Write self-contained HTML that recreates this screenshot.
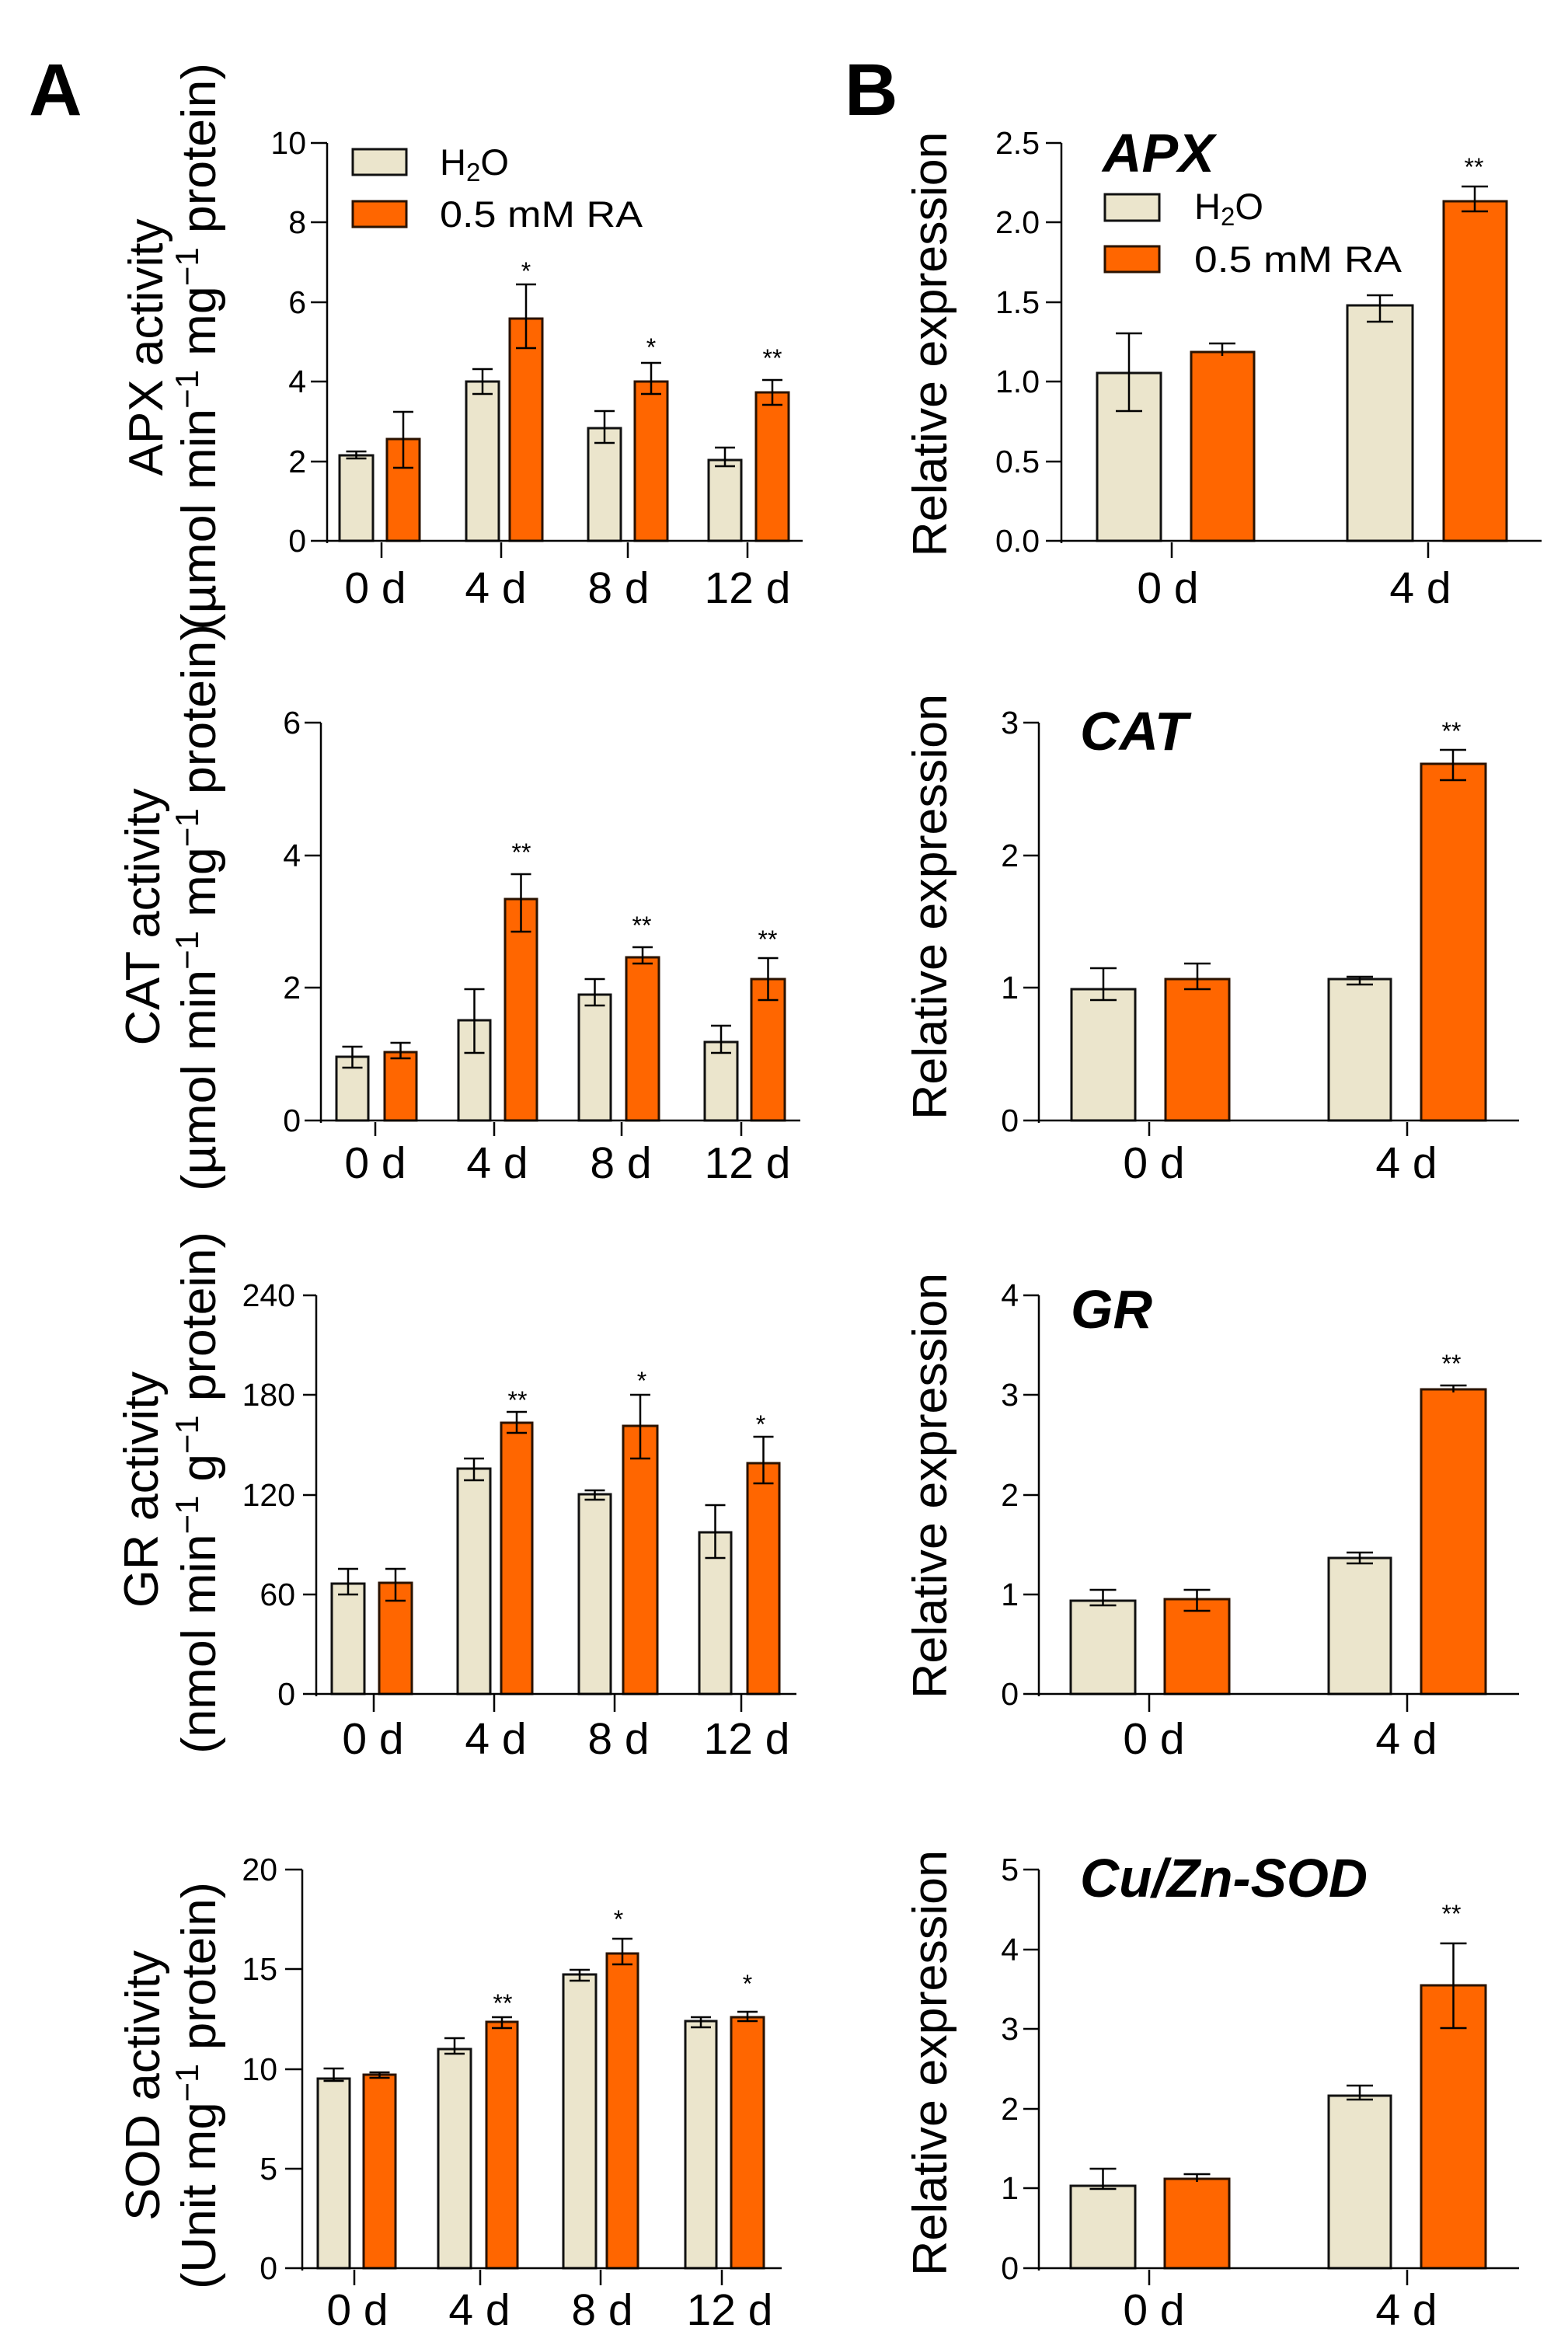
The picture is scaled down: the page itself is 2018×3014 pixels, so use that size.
<!DOCTYPE html>
<html>
<head>
<meta charset="utf-8">
<style>
html,body{margin:0;padding:0;background:#fff;}
svg{display:block;}
.ax{stroke:#000;stroke-width:2.5;fill:none}
.bg{fill:#EBE5CC;stroke:#111;stroke-width:3}
.or{fill:#FF6600;stroke:#2a1200;stroke-width:3}
.eb{stroke:#000;stroke-width:2.5;fill:none}
text{font-family:"Liberation Sans",Arial,sans-serif;fill:#000}
.tl{font-size:41px;text-anchor:end}
.cl{font-size:57px;text-anchor:middle}
.st{font-size:32px;text-anchor:middle}
.yl{font-size:62px;text-anchor:middle}
.gn{font-size:70px;font-weight:bold;font-style:italic}
.pl{font-size:95px;font-weight:bold}
.lg{font-size:47px}
</style>
</head>
<body>
<svg width="2018" height="3014" viewBox="0 0 2018 3014" xmlns="http://www.w3.org/2000/svg">
<rect x="0" y="0" width="2018" height="3014" fill="#fff"/>

<!-- Panel letters -->
<text class="pl" x="37" y="148">A</text>
<text class="pl" x="1087" y="148">B</text>

<!-- ================= A1 APX activity ================= -->
<text class="yl" transform="translate(209,447) rotate(-90)" textLength="331" lengthAdjust="spacingAndGlyphs">APX activity</text>
<text class="yl" transform="translate(277,446) rotate(-90)" textLength="730" lengthAdjust="spacingAndGlyphs">(µmol min<tspan font-size="42" dy="-22">−1</tspan><tspan dy="22"> mg</tspan><tspan font-size="42" dy="-22">−1</tspan><tspan dy="22"> protein)</tspan></text>
<rect class="bg" x="437" y="586" width="43" height="110"/>
<rect class="or" x="498" y="565" width="42" height="131"/>
<rect class="bg" x="600" y="491" width="42" height="205"/>
<rect class="or" x="656" y="410" width="42" height="286"/>
<rect class="bg" x="757" y="551" width="42" height="145"/>
<rect class="or" x="817" y="491" width="42" height="205"/>
<rect class="bg" x="912" y="592" width="42" height="104"/>
<rect class="or" x="973" y="505" width="42" height="191"/>
<path class="eb" d="M458.5 581V590M445.5 581H471.5M445.5 590H471.5
M519 530V602M506 530H532M506 602H532
M621 475V507M608 475H634M608 507H634
M677 366V448M664 366H690M664 448H690
M778 529V570M765 529H791M765 570H791
M838 467V507M825 467H851M825 507H851
M933 576V600M920 576H946M920 600H946
M994 489V521M981 489H1007M981 521H1007"/>
<path class="ax" d="M421 184V699M400 696H1033M400 184H421M400 286H421M400 389H421M400 491H421M400 594H421M491 698V718M645 698V718M808 698V718M962 698V718"/>
<text class="tl" x="394" y="198">10</text>
<text class="tl" x="394" y="300">8</text>
<text class="tl" x="394" y="403">6</text>
<text class="tl" x="394" y="505">4</text>
<text class="tl" x="394" y="608">2</text>
<text class="tl" x="394" y="710">0</text>
<text class="cl" x="483" y="776">0 d</text>
<text class="cl" x="638" y="776">4 d</text>
<text class="cl" x="796" y="776">8 d</text>
<text class="cl" x="962" y="776">12 d</text>
<text class="st" x="677" y="360">*</text>
<text class="st" x="838" y="458">*</text>
<text class="st" x="994" y="472">**</text>
<rect class="bg" x="454" y="192" width="69" height="33"/>
<rect class="or" x="454" y="259" width="69" height="33"/>
<text class="lg" x="566" y="225">H<tspan font-size="33" dy="8">2</tspan><tspan dy="-8">O</tspan></text>
<text class="lg" x="566" y="292" textLength="261" lengthAdjust="spacingAndGlyphs">0.5 mM RA</text>

<!-- ================= B1 APX expression ================= -->
<text class="yl" transform="translate(1218,443) rotate(-90)" textLength="547" lengthAdjust="spacingAndGlyphs">Relative expression</text>
<rect class="bg" x="1412" y="480" width="82" height="216"/>
<rect class="or" x="1533" y="453" width="81" height="243"/>
<rect class="bg" x="1734" y="393" width="84" height="303"/>
<rect class="or" x="1858" y="259" width="81" height="437"/>
<path class="eb" d="M1453 429V529M1436 429H1470M1436 529H1470
M1573 442V458M1556 442H1590
M1776 380V414M1759 380H1793M1759 414H1793
M1898 240V272M1881 240H1915M1881 272H1915"/>
<path class="ax" d="M1366 184V699M1346 696H1984M1346 184H1366M1346 286H1366M1346 389H1366M1346 491H1366M1346 594H1366M1508 698V718M1838 698V718"/>
<text class="tl" x="1338" y="198">2.5</text>
<text class="tl" x="1338" y="300">2.0</text>
<text class="tl" x="1338" y="403">1.5</text>
<text class="tl" x="1338" y="505">1.0</text>
<text class="tl" x="1338" y="608">0.5</text>
<text class="tl" x="1338" y="710">0.0</text>
<text class="cl" x="1503" y="776">0 d</text>
<text class="cl" x="1828" y="776">4 d</text>
<text class="st" x="1897" y="226">**</text>
<text class="gn" x="1419" y="221">APX</text>
<rect class="bg" x="1422" y="250" width="70" height="34"/>
<rect class="or" x="1422" y="317" width="70" height="33"/>
<text class="lg" x="1537" y="282">H<tspan font-size="33" dy="8">2</tspan><tspan dy="-8">O</tspan></text>
<text class="lg" x="1537" y="350" textLength="267" lengthAdjust="spacingAndGlyphs">0.5 mM RA</text>

<!-- ================= A2 CAT activity ================= -->
<text class="yl" transform="translate(205,1180) rotate(-90)" textLength="331" lengthAdjust="spacingAndGlyphs">CAT activity</text>
<text class="yl" transform="translate(277,1168) rotate(-90)" textLength="730" lengthAdjust="spacingAndGlyphs">(µmol min<tspan font-size="42" dy="-22">−1</tspan><tspan dy="22"> mg</tspan><tspan font-size="42" dy="-22">−1</tspan><tspan dy="22"> protein)</tspan></text>
<rect class="bg" x="433" y="1360" width="41" height="82"/>
<rect class="or" x="495" y="1354" width="41" height="88"/>
<rect class="bg" x="590" y="1313" width="41" height="129"/>
<rect class="or" x="650" y="1157" width="41" height="285"/>
<rect class="bg" x="745" y="1280" width="41" height="162"/>
<rect class="or" x="806" y="1232" width="42" height="210"/>
<rect class="bg" x="907" y="1341" width="42" height="101"/>
<rect class="or" x="967" y="1260" width="43" height="182"/>
<path class="eb" d="M453.5 1347V1374M440.5 1347H466.5M440.5 1374H466.5
M515.5 1342V1362M502.5 1342H528.5M502.5 1362H528.5
M610.5 1273V1355M597.5 1273H623.5M597.5 1355H623.5
M670.5 1125V1199M657.5 1125H683.5M657.5 1199H683.5
M765.5 1260V1294M752.5 1260H778.5M752.5 1294H778.5
M827 1219V1240M814 1219H840M814 1240H840
M928 1320V1355M915 1320H941M915 1355H941
M988.5 1233V1287M975.5 1233H1001.5M975.5 1287H1001.5"/>
<path class="ax" d="M413 930V1445M392 1442H1030M392 930H413M392 1101H413M392 1271H413M483 1444V1462M636 1444V1462M800 1444V1462M954 1444V1462"/>
<text class="tl" x="387" y="944">6</text>
<text class="tl" x="387" y="1115">4</text>
<text class="tl" x="387" y="1285">2</text>
<text class="tl" x="387" y="1456">0</text>
<text class="cl" x="483" y="1516">0 d</text>
<text class="cl" x="640" y="1516">4 d</text>
<text class="cl" x="799" y="1516">8 d</text>
<text class="cl" x="962" y="1516">12 d</text>
<text class="st" x="671" y="1108">**</text>
<text class="st" x="826" y="1202">**</text>
<text class="st" x="988" y="1220">**</text>

<!-- ================= B2 CAT expression ================= -->
<text class="yl" transform="translate(1218,1167) rotate(-90)" textLength="548" lengthAdjust="spacingAndGlyphs">Relative expression</text>
<rect class="bg" x="1379" y="1273" width="82" height="169"/>
<rect class="or" x="1500" y="1260" width="82" height="182"/>
<rect class="bg" x="1710" y="1260" width="80" height="182"/>
<rect class="or" x="1829" y="983" width="83" height="459"/>
<path class="eb" d="M1420 1246V1287M1403 1246H1437M1403 1287H1437
M1541 1240V1273M1524 1240H1558M1524 1273H1558
M1750 1257V1267M1733 1257H1767M1733 1267H1767
M1870 965V1004M1853 965H1887M1853 1004H1887"/>
<path class="ax" d="M1337 930V1445M1317 1442H1955M1317 930H1337M1317 1101H1337M1317 1271H1337M1479 1444V1462M1811 1444V1462"/>
<text class="tl" x="1311" y="944">3</text>
<text class="tl" x="1311" y="1115">2</text>
<text class="tl" x="1311" y="1285">1</text>
<text class="tl" x="1311" y="1456">0</text>
<text class="cl" x="1485" y="1516">0 d</text>
<text class="cl" x="1810" y="1516">4 d</text>
<text class="st" x="1868" y="952">**</text>
<text class="gn" x="1390" y="965">CAT</text>

<!-- ================= A3 GR activity ================= -->
<text class="yl" transform="translate(203,1917) rotate(-90)" textLength="304" lengthAdjust="spacingAndGlyphs">GR activity</text>
<text class="yl" transform="translate(277,1921) rotate(-90)" textLength="672" lengthAdjust="spacingAndGlyphs">(nmol min<tspan font-size="42" dy="-22">−1</tspan><tspan dy="22"> g</tspan><tspan font-size="42" dy="-22">−1</tspan><tspan dy="22"> protein)</tspan></text>
<rect class="bg" x="427" y="2038" width="42" height="142"/>
<rect class="or" x="488" y="2037" width="42" height="143"/>
<rect class="bg" x="589" y="1890" width="42" height="290"/>
<rect class="or" x="645" y="1831" width="40" height="349"/>
<rect class="bg" x="745" y="1923" width="41" height="257"/>
<rect class="or" x="802" y="1835" width="44" height="345"/>
<rect class="bg" x="900" y="1972" width="41" height="208"/>
<rect class="or" x="962" y="1883" width="41" height="297"/>
<path class="eb" d="M448 2019V2052M435 2019H461M435 2052H461
M509 2019V2060M496 2019H522M496 2060H522
M610 1877V1905M597 1877H623M597 1905H623
M665 1817V1844M652 1817H678M652 1844H678
M765.5 1918V1930M752.5 1918H778.5M752.5 1930H778.5
M824 1795V1877M811 1795H837M811 1877H837
M920.5 1937V2005M907.5 1937H933.5M907.5 2005H933.5
M982.5 1849V1909M969.5 1849H995.5M969.5 1909H995.5"/>
<path class="ax" d="M407 1667V2183M390 2180H1025M390 1667H407M390 1795H407M390 1924H407M390 2052H407M481 2180V2203M636 2180V2203M791 2180V2203M954 2180V2203"/>
<text class="tl" x="380" y="1681">240</text>
<text class="tl" x="380" y="1809">180</text>
<text class="tl" x="380" y="1938">120</text>
<text class="tl" x="380" y="2066">60</text>
<text class="tl" x="380" y="2194">0</text>
<text class="cl" x="480" y="2257">0 d</text>
<text class="cl" x="638" y="2257">4 d</text>
<text class="cl" x="796" y="2257">8 d</text>
<text class="cl" x="961" y="2257">12 d</text>
<text class="st" x="666" y="1813">**</text>
<text class="st" x="826" y="1788">*</text>
<text class="st" x="979" y="1844">*</text>

<!-- ================= B3 GR expression ================= -->
<text class="yl" transform="translate(1218,1912) rotate(-90)" textLength="548" lengthAdjust="spacingAndGlyphs">Relative expression</text>
<rect class="bg" x="1378" y="2060" width="83" height="120"/>
<rect class="or" x="1499" y="2058" width="83" height="122"/>
<rect class="bg" x="1710" y="2005" width="80" height="175"/>
<rect class="or" x="1829" y="1788" width="83" height="392"/>
<path class="eb" d="M1419.5 2046V2066M1402.5 2046H1436.5M1402.5 2066H1436.5
M1540.5 2046V2073M1523.5 2046H1557.5M1523.5 2073H1557.5
M1750 1998V2012M1733 1998H1767M1733 2012H1767
M1870.5 1783V1792M1853.5 1783H1887.5"/>
<path class="ax" d="M1337 1667V2183M1317 2180H1955M1317 1667H1337M1317 1795H1337M1317 1924H1337M1317 2052H1337M1479 2180V2203M1811 2180V2203"/>
<text class="tl" x="1311" y="1681">4</text>
<text class="tl" x="1311" y="1809">3</text>
<text class="tl" x="1311" y="1938">2</text>
<text class="tl" x="1311" y="2066">1</text>
<text class="tl" x="1311" y="2194">0</text>
<text class="cl" x="1485" y="2257">0 d</text>
<text class="cl" x="1810" y="2257">4 d</text>
<text class="st" x="1868" y="1766">**</text>
<text class="gn" x="1378" y="1709">GR</text>

<!-- ================= A4 SOD activity ================= -->
<text class="yl" transform="translate(205,2684) rotate(-90)" textLength="348" lengthAdjust="spacingAndGlyphs">SOD activity</text>
<text class="yl" transform="translate(277,2684) rotate(-90)" textLength="524" lengthAdjust="spacingAndGlyphs">(Unit mg<tspan font-size="42" dy="-22">−1</tspan><tspan dy="22"> protein)</tspan></text>
<rect class="bg" x="409" y="2675" width="41" height="244"/>
<rect class="or" x="468" y="2670" width="41" height="249"/>
<rect class="bg" x="564" y="2637" width="42" height="282"/>
<rect class="or" x="626" y="2602" width="40" height="317"/>
<rect class="bg" x="725" y="2541" width="42" height="378"/>
<rect class="or" x="781" y="2514" width="40" height="405"/>
<rect class="bg" x="882" y="2601" width="40" height="318"/>
<rect class="or" x="941" y="2596" width="42" height="323"/>
<path class="eb" d="M429.5 2662V2678M416.5 2662H442.5M416.5 2678H442.5
M488.5 2667V2674M475.5 2667H501.5M475.5 2674H501.5
M585 2623V2643M572 2623H598M572 2643H598
M646 2596V2610M633 2596H659M633 2610H659
M746 2535V2549M733 2535H759M733 2549H759
M801 2495V2528M788 2495H814M788 2528H814
M902 2596V2609M889 2596H915M889 2609H915
M962 2589V2601M949 2589H975M949 2601H975"/>
<path class="ax" d="M389 2406V2922M367 2919H1006M367 2406H389M367 2534H389M367 2663H389M367 2791H389M456 2921V2941M618 2921V2941M773 2921V2941M929 2921V2941"/>
<text class="tl" x="357" y="2420">20</text>
<text class="tl" x="357" y="2548">15</text>
<text class="tl" x="357" y="2677">10</text>
<text class="tl" x="357" y="2805">5</text>
<text class="tl" x="357" y="2933">0</text>
<text class="cl" x="460" y="2992">0 d</text>
<text class="cl" x="617" y="2992">4 d</text>
<text class="cl" x="775" y="2992">8 d</text>
<text class="cl" x="939" y="2992">12 d</text>
<text class="st" x="647" y="2589">**</text>
<text class="st" x="796" y="2481">*</text>
<text class="st" x="962" y="2564">*</text>

<!-- ================= B4 Cu/Zn-SOD expression ================= -->
<text class="yl" transform="translate(1218,2655) rotate(-90)" textLength="548" lengthAdjust="spacingAndGlyphs">Relative expression</text>
<rect class="bg" x="1378" y="2813" width="83" height="106"/>
<rect class="or" x="1499" y="2804" width="83" height="115"/>
<rect class="bg" x="1710" y="2697" width="80" height="222"/>
<rect class="or" x="1829" y="2555" width="83" height="364"/>
<path class="eb" d="M1419.5 2791V2817M1402.5 2791H1436.5M1402.5 2817H1436.5
M1540.5 2798V2808M1523.5 2798H1557.5
M1750 2684V2702M1733 2684H1767M1733 2702H1767
M1870.5 2501V2610M1853.5 2501H1887.5M1853.5 2610H1887.5"/>
<path class="ax" d="M1337 2406V2922M1317 2919H1955M1317 2406H1337M1317 2509H1337M1317 2611H1337M1317 2714H1337M1317 2816H1337M1479 2921V2941M1811 2921V2941"/>
<text class="tl" x="1311" y="2420">5</text>
<text class="tl" x="1311" y="2523">4</text>
<text class="tl" x="1311" y="2625">3</text>
<text class="tl" x="1311" y="2728">2</text>
<text class="tl" x="1311" y="2830">1</text>
<text class="tl" x="1311" y="2933">0</text>
<text class="cl" x="1485" y="2992">0 d</text>
<text class="cl" x="1810" y="2992">4 d</text>
<text class="st" x="1868" y="2474">**</text>
<text class="gn" x="1390" y="2441" textLength="370" lengthAdjust="spacingAndGlyphs">Cu/Zn-SOD</text>
</svg>
</body>
</html>
